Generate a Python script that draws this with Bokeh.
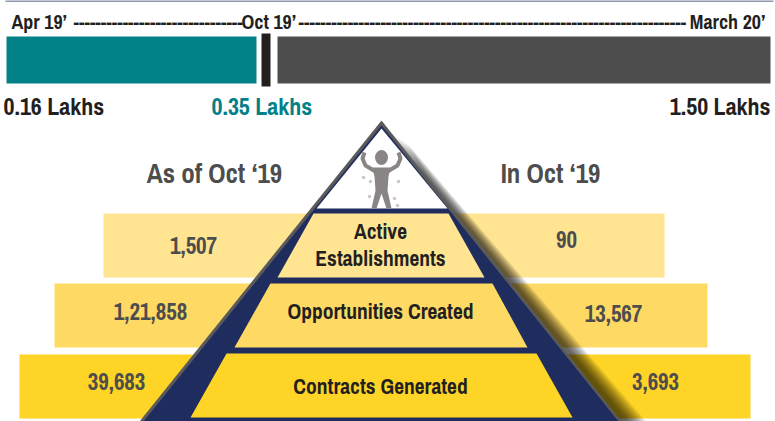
from bokeh.plotting import figure
from bokeh.models import Range1d
from bokeh.core.properties import value
from bokeh.embed import file_html
from bokeh.resources import INLINE

FONT = value("Archivo Narrow")

# ---- data ----
timeline_labels = ["Apr 19’", "Oct 19’", "March 20’"]
lakhs_labels = ["0.16 Lakhs", "0.35 Lakhs", "1.50 Lakhs"]
tiers = ["Contracts Generated", "Opportunities Created", "Active Establishments"]
as_of_oct = ["39,683", "1,21,858", "1,507"]
in_oct = ["3,693", "13,567", "90"]
headings = ["As of Oct ‘19", "In Oct ‘19"]

# ---- canvas in page pixels ----
W, H = 775, 421
p = figure(width=W, height=H, output_backend="svg", toolbar_location=None,
           x_range=Range1d(0, W), y_range=Range1d(H, 0), min_border=0)
p.margin = (0, 0, 0, 0)
p.axis.visible = False
p.grid.visible = False
p.outline_line_color = None
p.background_fill_color = "white"
p.border_fill_color = "white"

def T(x, y, s, size, color="#231f20", align="center"):
    p.text([x], [y], text=[s], text_font=FONT, text_font_size=f"{size}px",
           text_font_style="bold", text_color=color,
           text_align=align, text_baseline="middle")

def rect(x0, x1, y0, y1, color):
    p.quad(left=[x0], right=[x1], top=[y0], bottom=[y1], fill_color=color, line_color=None)

# top rule
rect(5, 773, 0, 1, "#1f2d5e")

# timeline
T(11, 21, timeline_labels[0], 20, align="left")
T(73, 21, "-" * 31, 20, align="left")
T(241, 21, timeline_labels[1], 20, align="left")
T(298, 21, "-" * 71, 20, align="left")
T(765, 21, timeline_labels[2], 20, align="right")
rect(6, 256, 36, 83, "#028188")
rect(261, 270, 33, 86, "#231f20")
rect(277, 770, 36, 83, "#4d4d4d")
T(3, 105, lakhs_labels[0], 24, align="left")
T(211, 105, lakhs_labels[1], 24, color="#028188", align="left")
T(770, 105, lakhs_labels[2], 24, align="right")

# headings
T(214, 172, headings[0], 27, color="#4d4d4d")
T(550, 172, headings[1], 27, color="#4d4d4d")

# side bands
band_y = [(354, 418), (283, 347), (213, 277)]
band_x = [(19, 750), (54, 707), (103, 664)]
band_c = ["#fed426", "#fed964", "#ffe492"]
for (y0, y1), (x0, x1), c in zip(band_y, band_x, band_c):
    rect(x0, x1, y0, y1, c)

# soft shadow along the right slope, tapering towards the apex
for d in range(1, 21):
    p.patch([390 + d * 0.9, 626 + d, 560], [132 + d * 0.6, 421, 421],
            fill_color="#000000", fill_alpha=0.045, line_color=None)

# pyramid body
apex = (381, 120)
p.patch([apex[0], 621, 139], [apex[1], 421, 421], fill_color="#5a5a5a", line_color=None)
p.patch([apex[0], 618, 143], [apex[1] + 5, 421, 421], fill_color="#1f2d5e", line_color=None)
# white tip
p.patch([apex[0], 447, 316], [128, 208, 208], fill_color="white", line_color=None)
# tiers
p.patch([313, 448, 484, 277], [213, 213, 277, 277], fill_color=band_c[2], line_color=None)
p.patch([270, 492, 527, 234], [283, 283, 347, 347], fill_color=band_c[1], line_color=None)
p.patch([226, 536, 572, 190], [353, 353, 417, 417], fill_color=band_c[0], line_color=None)

# tier labels
T(380, 231, "Active", 21.5)
T(380, 258, "Establishments", 21.5)
T(380, 311, tiers[1], 21.5)
T(380, 386, tiers[0], 21.5)

# side values
T(193, 245, as_of_oct[2], 23, color="#4d4d4d")
T(566, 239, in_oct[2], 23, color="#4d4d4d")
T(150, 311, as_of_oct[1], 23, color="#4d4d4d")
T(613, 313, in_oct[1], 23, color="#4d4d4d")
T(116, 381, as_of_oct[0], 23, color="#4d4d4d")
T(655, 381, in_oct[0], 23, color="#4d4d4d")

# figure icon
FIG = "#8a8585"
p.ellipse([381], [157], width=13, height=15, fill_color=FIG, line_color=None)
p.patch([372, 390, 388, 387, 391, 386, 381, 376, 371, 375, 374],
        [167, 167, 176, 190, 208, 208, 193, 208, 208, 190, 176],
        fill_color=FIG, line_color=None)
p.line([375, 365, 362, 364], [171, 165, 158, 152], line_color=FIG, line_width=4)
p.line([387, 397, 400, 398], [171, 165, 158, 152], line_color=FIG, line_width=4)
p.scatter([363, 370, 369, 398, 394, 397], [177, 181, 196, 181, 198, 205],
          size=3.5, fill_color="#c9c6c6", line_color=None)

open("out.html", "w").write(file_html(p, INLINE))
